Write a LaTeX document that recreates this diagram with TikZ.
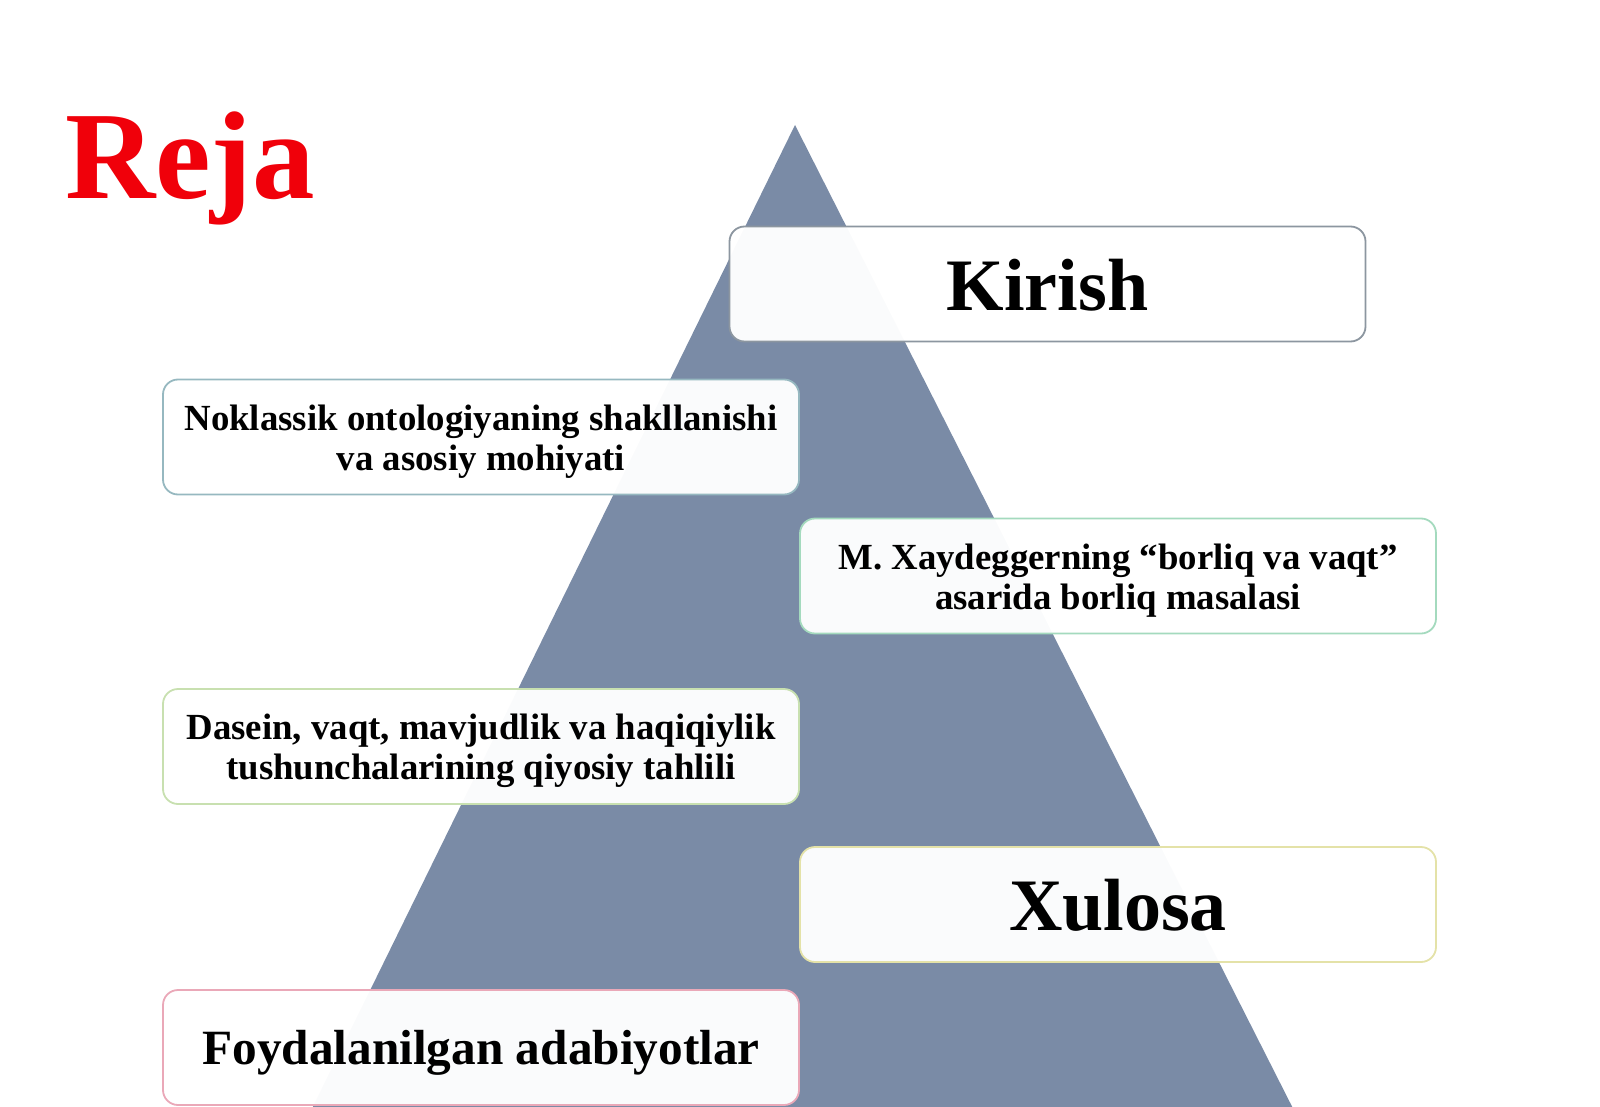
\documentclass[tikz,border=0pt]{standalone}
\usepackage{fontspec}
\setmainfont{Liberation Serif}
\definecolor{tri}{RGB}{122,139,166}
\definecolor{bKir}{RGB}{140,150,160}
\definecolor{bNok}{RGB}{150,184,192}
\definecolor{bXay}{RGB}{164,218,190}
\definecolor{bDas}{RGB}{200,224,176}
\definecolor{bXul}{RGB}{228,226,168}
\definecolor{bFoy}{RGB}{234,168,184}
\definecolor{rejared}{RGB}{240,0,10}
\begin{document}
\begin{tikzpicture}[x=1pt,y=-1pt,
  listbox/.style={rounded corners=15pt, line width=1.8pt, fill=white, fill opacity=0.97,
    minimum width=636pt, minimum height=115pt, inner sep=0pt},
  boxtext/.style={inner sep=0pt, align=center, text=black},
  smalltext/.style={boxtext, font=\fontsize{36.8}{40}\selectfont\bfseries},
  bigtext/.style={boxtext, font=\fontsize{74}{84}\selectfont\bfseries},
  midtext/.style={boxtext, font=\fontsize{49.3}{56}\selectfont\bfseries}]
\useasboundingbox (0,0) rectangle (1600,1107);
\begin{scope}
\clip (0,0) rectangle (1600,1107);
\fill[tri] (795,125) -- (218,1300) -- (1390,1300) -- cycle;
\end{scope}
\node[anchor=base west, text=rejared, font=\fontsize{125}{135}\selectfont\bfseries, inner sep=0pt] (reja) at (65,199) {Reja};
\node[listbox, draw=bKir] (kirish) at (1047.5,284) {};
\node[bigtext] (kirisht) at ([yshift=-1pt]kirish.center) {Kirish};
\node[listbox, draw=bNok] (nok) at (481,437) {};
\node[smalltext] (nokt) at ([yshift=-4.5pt]nok.center) {Noklassik ontologiyaning shakllanishi\\va asosiy mohiyati};
\node[listbox, draw=bXay] (xay) at (1118,576) {};
\node[smalltext] (xayt) at ([yshift=-4.5pt]xay.center) {M. Xaydeggerning “borliq va vaqt”\\asarida borliq masalasi};
\node[listbox, draw=bDas] (das) at (481,746.5) {};
\node[smalltext] (dast) at ([yshift=-4.5pt]das.center) {Dasein, vaqt, mavjudlik va haqiqiylik\\tushunchalarining qiyosiy tahlili};
\node[listbox, draw=bXul] (xul) at (1118,904.5) {};
\node[bigtext] (xult) at ([yshift=-1pt]xul.center) {Xulosa};
\node[listbox, draw=bFoy] (foy) at (481,1047.5) {};
\node[midtext] (foyt) at ([yshift=-5pt]foy.center) {Foydalanilgan adabiyotlar};
\end{tikzpicture}
\end{document}
